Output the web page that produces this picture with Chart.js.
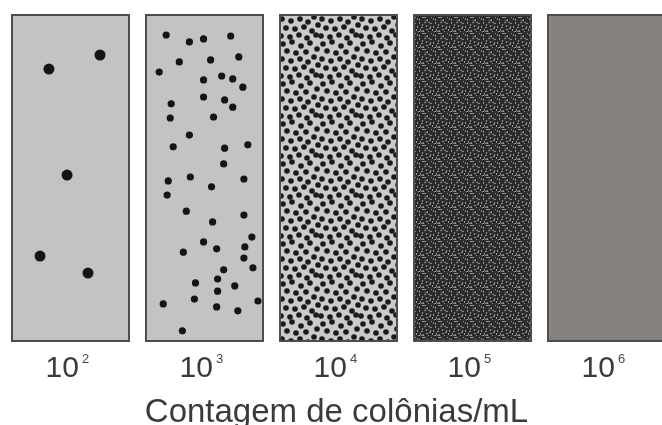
<!DOCTYPE html>
<html>
<head>
<meta charset="utf-8">
<script src="https://cdn.jsdelivr.net/npm/chart.js@4"></script>
<style>
    html, body { margin: 0; padding: 0; background: #ffffff; }
</style>
</head>
<body>
<canvas id="chart" width="662" height="425"></canvas>
<script>
// Colony count per plate: 10^exponent colonies/mL
const exponents = [2, 3, 4, 5, 6];
const axisTitle = "Contagem de colônias/mL";

// Colonies, in % of plate width / height (0 = top)
const plate1Colonies = [
    [31.9, 16.8], [74.8, 12.5], [47.1, 49.1], [24.4, 73.8], [64.7, 79.0]
];
const plate2Colonies = [
    [17.8, 6.4], [37.3, 8.5], [49.2, 7.6], [72.0, 6.7], [28.8, 14.6], [55.1, 14.0],
    [78.8, 13.1], [11.9, 17.7], [49.2, 20.1], [64.4, 18.9], [73.7, 19.8], [82.2, 22.3],
    [22.0, 27.4], [49.2, 25.3], [66.9, 26.2], [73.7, 28.4], [21.2, 31.7], [57.6, 31.4],
    [37.3, 36.9], [23.7, 40.5], [66.9, 40.9], [86.4, 39.9], [66.1, 45.7], [19.5, 50.9],
    [38.1, 49.7], [55.9, 52.7], [83.1, 50.3], [18.6, 55.2], [34.7, 60.1], [83.1, 61.3],
    [56.8, 63.4], [89.8, 68.0], [49.2, 69.5], [32.2, 72.6], [60.2, 71.6], [83.9, 71.0],
    [83.1, 74.4], [66.1, 78.0], [90.7, 77.4], [42.4, 82.0], [61.0, 80.8], [75.4, 82.9],
    [61.0, 84.5], [41.5, 86.9], [94.9, 87.5], [15.3, 88.4], [60.2, 89.3], [78.0, 90.5],
    [31.4, 96.6]
];

// Layout: each plate is 100 units wide, plates repeat every PLATE_STEP units
const PLATE_STEP = 112.6;
const X_MAX = 547;
const FONT = "'Liberation Sans', Arial, sans-serif";

// Textures for the dense plates (10^4 dotted, 10^5 nearly confluent)
function makeTile(size, base, draw) {
    const c = document.createElement("canvas");
    c.width = size;
    c.height = size;
    const g = c.getContext("2d");
    g.fillStyle = base;
    g.fillRect(0, 0, size, size);
    draw(g, size);
    return document.getElementById("chart").getContext("2d").createPattern(c, "repeat");
}

const dotTile = [
    [3, 4], [12, 2], [21, 6], [30, 3], [37, 9], [7, 11], [16, 13], [26, 12],
    [34, 17], [2, 19], [11, 21], [20, 19], [28, 22], [38, 25], [6, 28], [15, 29],
    [24, 27], [32, 31], [1, 36], [10, 37], [19, 35], [27, 38], [36, 35]
];
const grainTile = [
    [1, 2], [6, 1], [11, 3], [14, 7], [3, 6], [8, 6], [1, 10], [5, 11],
    [10, 9], [13, 12], [7, 14], [2, 15], [12, 15], [15, 1], [4, 13], [9, 4],
    [6, 8], [12, 6], [3, 3], [10, 13], [14, 10], [8, 1], [0, 13], [5, 15]
];

const dottedFill = makeTile(40, "#cacaca", (g, s) => {
    g.fillStyle = "#1a1a1a";
    dotTile.forEach(([x, y]) => {
        for (let dx = -s; dx <= s; dx += s) {
            for (let dy = -s; dy <= s; dy += s) {
                g.beginPath();
                g.arc(x + dx, y + dy, 2.8, 0, Math.PI * 2);
                g.fill();
            }
        }
    });
});

const grainFill = makeTile(16, "#2c2c2c", (g) => {
    g.fillStyle = "#939393";
    grainTile.forEach(([x, y], i) => {
        g.fillRect(x, y, i % 2 ? 2 : 1, i % 2 ? 1 : 2);
    });
});

const plateFills = ["#c3c3c3", "#c3c3c3", dottedFill, grainFill, "#858280"];

const plateCenter = (i) => i * PLATE_STEP + 50;

function coloniesDataset(points, plateIndex, radius) {
    return {
        type: "scatter",
        data: points.map(([x, y]) => ({ x: plateIndex * PLATE_STEP + x, y: y })),
        pointRadius: radius,
        pointHoverRadius: radius,
        pointBorderWidth: 0,
        backgroundColor: "#151515",
        order: 1
    };
}

// Small raised exponent next to each "10" tick label
const exponentLabels = {
    id: "exponentLabels",
    afterDraw(chart) {
        const scale = chart.scales.x;
        const ctx = chart.ctx;
        ctx.save();
        ctx.fillStyle = "#4a4a4a";
        ctx.font = "13px " + FONT;
        ctx.textAlign = "center";
        ctx.textBaseline = "top";
        exponents.forEach((e, i) => {
            ctx.fillText(String(e), scale.getPixelForTick(i) + 15, scale.top + 11);
        });
        ctx.restore();
    }
};

new Chart(document.getElementById("chart"), {
    type: "scatter",
    plugins: [exponentLabels],
    data: {
        datasets: [
            {
                type: "bar",
                data: exponents.map((_, i) => ({ x: plateCenter(i), y: [0, 100] })),
                backgroundColor: plateFills,
                borderColor: "#4d4d4d",
                borderWidth: 2,
                borderSkipped: false,
                barPercentage: 0.888,
                categoryPercentage: 1,
                order: 2
            },
            coloniesDataset(plate1Colonies, 0, 5.5),
            coloniesDataset(plate2Colonies, 1, 3.6)
        ]
    },
    options: {
        responsive: false,
        animation: false,
        layout: { autoPadding: false, padding: { left: 11, right: 0, top: 14, bottom: 0 } },
        plugins: {
            legend: { display: false },
            tooltip: { enabled: false }
        },
        scales: {
            x: {
                type: "linear",
                min: 0,
                max: X_MAX,
                offset: false,
                grid: { display: false, drawTicks: false },
                border: { display: false },
                afterBuildTicks: (scale) => {
                    scale.ticks = exponents.map((_, i) => ({ value: plateCenter(i) }));
                },
                afterFit: (scale) => {
                    scale.paddingLeft = 0;
                    scale.paddingRight = 0;
                },
                ticks: {
                    padding: 12,
                    autoSkip: false,
                    maxRotation: 0,
                    color: "#3a3a3a",
                    font: { family: FONT, size: 30, lineHeight: 1 },
                    // trailing spaces leave room for the exponent
                    callback: () => "10  "
                },
                title: {
                    display: true,
                    text: axisTitle,
                    color: "#3a3a3a",
                    padding: { top: 0, bottom: -4 },
                    font: { family: FONT, size: 33, lineHeight: 1 }
                }
            },
            y: {
                display: false,
                reverse: true,
                min: 0,
                max: 100
            }
        }
    }
});
</script>
</body>
</html>
